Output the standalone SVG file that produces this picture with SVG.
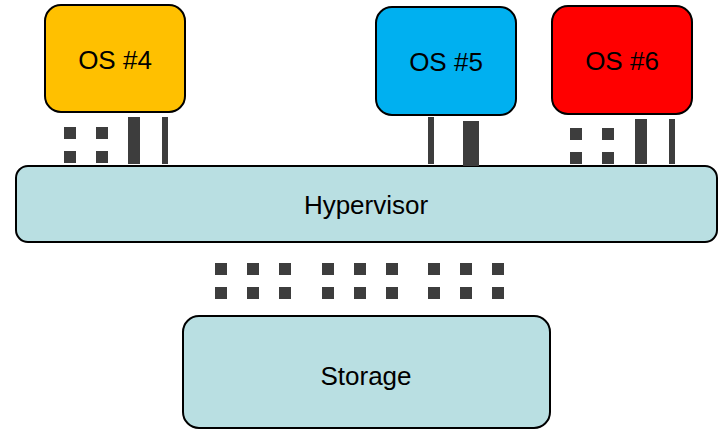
<svg xmlns="http://www.w3.org/2000/svg" width="723" height="430" viewBox="0 0 723 430">
<style>
.box{stroke:#000;stroke-width:2}
.lbl{font-family:"Liberation Sans",Arial,sans-serif;font-size:26px;fill:#000;text-anchor:middle;dominant-baseline:central}
.blk{fill:#3d3d3d}
</style>
<rect width="723" height="430" fill="#fff"/>
<g id="os4"><rect class="box" x="45" y="5" width="140" height="107" rx="16" fill="#ffc000"/><text class="lbl" x="115" y="60">OS #4</text></g>
<g id="os5"><rect class="box" x="376" y="7" width="140" height="108" rx="16" fill="#00b0f0"/><text class="lbl" x="446" y="62">OS #5</text></g>
<g id="os6"><rect class="box" x="552" y="6" width="140" height="108" rx="16" fill="#ff0000"/><text class="lbl" x="622" y="61">OS #6</text></g>
<g id="hypervisor"><rect class="box" x="16" y="166" width="701" height="76" rx="12" fill="#b9dfe2"/><text class="lbl" x="366" y="205">Hypervisor</text></g>
<g id="storage"><rect class="box" x="183" y="316" width="367" height="112" rx="16" fill="#b9dfe2"/><text class="lbl" x="366" y="376">Storage</text></g>
<g id="connectors">
<rect class="blk" x="64" y="127" width="12" height="12"/><rect class="blk" x="64" y="151" width="12" height="12"/>
<rect class="blk" x="96" y="127" width="12" height="12"/><rect class="blk" x="96" y="151" width="12" height="12"/>
<rect class="blk" x="128" y="117" width="12" height="47"/><rect class="blk" x="162" y="117" width="6" height="47"/>
<rect class="blk" x="428" y="117" width="6" height="47"/><rect class="blk" x="463" y="121" width="16" height="45"/>
<rect class="blk" x="570" y="128" width="12" height="12"/><rect class="blk" x="570" y="152" width="12" height="12"/>
<rect class="blk" x="602" y="128" width="12" height="12"/><rect class="blk" x="602" y="152" width="12" height="12"/>
<rect class="blk" x="635" y="119" width="12" height="45"/><rect class="blk" x="669" y="119" width="6" height="45"/>
<g>
<rect class="blk" x="215" y="263" width="12" height="12"/><rect class="blk" x="247" y="263" width="12" height="12"/><rect class="blk" x="279" y="263" width="12" height="12"/>
<rect class="blk" x="322" y="263" width="12" height="12"/><rect class="blk" x="354" y="263" width="12" height="12"/><rect class="blk" x="386" y="263" width="12" height="12"/>
<rect class="blk" x="428" y="263" width="12" height="12"/><rect class="blk" x="460" y="263" width="12" height="12"/><rect class="blk" x="492" y="263" width="12" height="12"/>
<rect class="blk" x="215" y="287" width="12" height="12"/><rect class="blk" x="247" y="287" width="12" height="12"/><rect class="blk" x="279" y="287" width="12" height="12"/>
<rect class="blk" x="322" y="287" width="12" height="12"/><rect class="blk" x="354" y="287" width="12" height="12"/><rect class="blk" x="386" y="287" width="12" height="12"/>
<rect class="blk" x="428" y="287" width="12" height="12"/><rect class="blk" x="460" y="287" width="12" height="12"/><rect class="blk" x="492" y="287" width="12" height="12"/>
</g>
</g>
</svg>
